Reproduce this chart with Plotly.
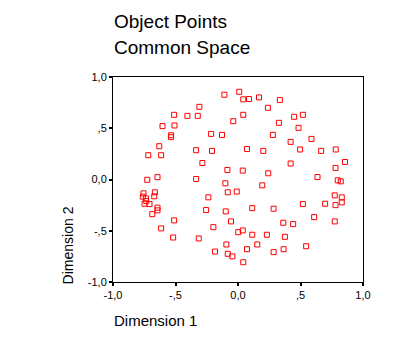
import plotly.graph_objects as go

dim1 = [-0.109, 0.010, -0.309, -0.511, -0.405, -0.322, -0.038, -0.604, -0.508, -0.215,
        -0.128, -0.535, -0.537, -0.630, -0.335, -0.208, -0.718, -0.615, -0.285, -0.085,
        -0.726, -0.644, -0.335, 0.042, 0.088, 0.168, 0.335, 0.239, 0.042, 0.449,
        0.519, 0.327, 0.484, 0.279, 0.421, 0.588, 0.072, 0.202, 0.497, 0.665,
        0.782, 0.856, 0.421, 0.038, 0.242, 0.780, 0.636, 0.798, 0.822, -0.101,
        -0.082, -0.010, -0.756, -0.665, -0.761, -0.737, -0.670, -0.237, -0.734, -0.748,
        -0.708, -0.644, -0.644, -0.255, -0.098, -0.686, -0.511, -0.056, -0.615, -0.197,
        0.002, 0.038, -0.519, -0.314, -0.093, -0.184, -0.082, -0.045, 0.194, 0.774,
        0.830, 0.519, 0.697, 0.780, 0.830, 0.114, 0.285, 0.609, 0.774, 0.362,
        0.441, 0.114, 0.231, 0.375, 0.154, 0.545, 0.072, 0.365, 0.285, 0.042]
dim2 = [0.827, 0.856, 0.709, 0.631, 0.621, 0.621, 0.569, 0.521, 0.527, 0.445,
        0.435, 0.432, 0.413, 0.325, 0.286, 0.279, 0.237, 0.237, 0.161, 0.093,
        -0.003, 0.023, 0.005, 0.782, 0.785, 0.801, 0.775, 0.700, 0.631, 0.612,
        0.631, 0.553, 0.504, 0.435, 0.367, 0.396, 0.298, 0.279, 0.293, 0.279,
        0.293, 0.171, 0.156, 0.087, 0.061, 0.113, 0.024, -0.008, -0.018, -0.037,
        -0.125, -0.118, -0.135, -0.125, -0.167, -0.184, -0.164, -0.174, -0.210, -0.236,
        -0.240, -0.275, -0.301, -0.298, -0.311, -0.338, -0.399, -0.409, -0.477, -0.465,
        -0.514, -0.497, -0.566, -0.575, -0.634, -0.703, -0.725, -0.750, -0.057, -0.155,
        -0.174, -0.240, -0.236, -0.250, -0.223, -0.279, -0.285, -0.367, -0.409, -0.422,
        -0.435, -0.539, -0.539, -0.559, -0.634, -0.651, -0.680, -0.680, -0.709, -0.807]

tick_vals = [-1.0, -0.5, 0.0, 0.5, 1.0]
tick_text = ["-1,0", "-,5", "0,0", ",5", "1,0"]

W, H = 415, 345
L, R, T, B = 112.7, 51.7, 77.3, 63.3
pw, ph = W - L - R, H - T - B

def px(xp):
    return (xp - L) / pw

def py(yp):
    return (H - B - yp) / ph

font = "Liberation Sans, Arial, sans-serif"

fig = go.Figure(go.Scatter(
    x=dim1, y=dim2, mode="markers",
    marker=dict(symbol="square-open", size=5, color="#ff0000",
                line=dict(color="#ff0000", width=1)),
    hoverinfo="skip"))

axis_common = dict(range=[-1, 1], tickvals=tick_vals, ticktext=tick_text,
                   showgrid=False, zeroline=False, showline=True, linecolor="black",
                   linewidth=1, mirror=True, ticks="outside", ticklen=3, tickwidth=2,
                   tickcolor="black", tickfont=dict(family=font, size=11, color="black"))

fig.update_layout(
    width=W, height=H, margin=dict(l=L, r=R, t=T, b=B),
    paper_bgcolor="white", plot_bgcolor="white", showlegend=False,
    xaxis=dict(**axis_common, ticklabelstandoff=0),
    yaxis=dict(**axis_common),
    annotations=[
        dict(text="Object Points", x=px(112), y=py(22), xref="paper", yref="paper",
             xanchor="left", yanchor="middle", showarrow=False,
             font=dict(family=font, size=19, color="black")),
        dict(text="Common Space", x=px(112), y=py(47.5), xref="paper", yref="paper",
             xanchor="left", yanchor="middle", showarrow=False,
             font=dict(family=font, size=19, color="black")),
        dict(text="Dimension 1", x=px(112), y=py(320), xref="paper", yref="paper",
             xanchor="left", yanchor="middle", showarrow=False,
             font=dict(family=font, size=15, color="black")),
        dict(text="Dimension 2", x=px(67.8), y=py(245), xref="paper", yref="paper",
             xanchor="center", yanchor="middle", showarrow=False, textangle=-90,
             font=dict(family=font, size=14, color="black")),
    ],
)

fig.write_html("out.html")
